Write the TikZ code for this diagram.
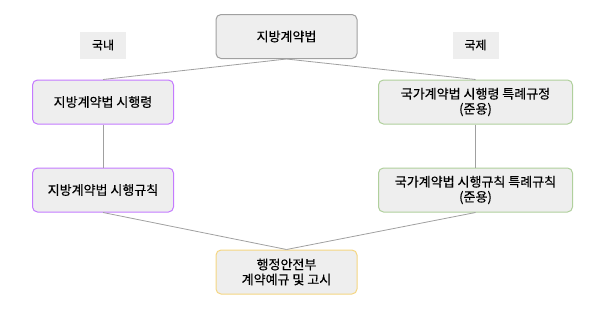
\documentclass[tikz,border=0pt]{standalone}
\usepackage{fontspec}
\setmainfont{Noto Sans CJK KR}[FakeBold=0.4]
\usepackage{xcolor}
\definecolor{boxfill}{RGB}{238,238,238}
\definecolor{topline}{RGB}{160,160,160}
\definecolor{purpleline}{RGB}{196,122,255}
\definecolor{greenline}{RGB}{176,208,156}
\definecolor{yellowline}{RGB}{245,214,130}
\definecolor{linkgray}{RGB}{160,160,160}
\usepackage{tikz}

\begin{document}
\begin{tikzpicture}[x=1pt,y=-1pt,
  law/.style={draw, rounded corners=5pt, fill=boxfill, minimum width=141pt,
    minimum height=44pt, inner sep=0pt, align=center, line width=1pt,
    font=\fontsize{13}{15}\selectfont},
  tag/.style={fill=boxfill, minimum width=46pt, minimum height=27pt,
    inner sep=0pt, font=\fontsize{12}{14}\selectfont},
  link/.style={draw=linkgray, line width=0.8pt}]
  \useasboundingbox (0,0) rectangle (607,311);

  % Side labels
  \node[tag] (domestic) at (103,45) {국내};
  \node[tag] (intl) at (475.5,45) {국제};

  % Act
  \node[law, draw=topline] (act) at (286.5,36.5) {지방계약법};

  % Decrees
  \node[law, draw=purpleline] (decree) at (103,102) {지방계약법 시행령};
  \node[law, draw=greenline, minimum width=194pt] (natdecree) at (475.5,102)
    {국가계약법 시행령 특례규정\\(준용)};

  % Rules
  \node[law, draw=purpleline] (rule) at (103,190) {지방계약법 시행규칙};
  \node[law, draw=greenline, minimum width=194pt] (natrule) at (475.5,190)
    {국가계약법 시행규칙 특례규칙\\(준용)};

  % Ministry
  \node[law, draw=yellowline] (notice) at (286.5,272) {행정안전부\\계약예규 및 고시};

  % Links
  \draw[link] (act.south) -- (decree.north);
  \draw[link] (act.south) -- (natdecree.north);
  \draw[link] (decree.south) -- (rule.north);
  \draw[link] (natdecree.south) -- (natrule.north);
  \draw[link] (rule.south) -- (notice.north);
  \draw[link] (natrule.south) -- (notice.north);
\end{tikzpicture}
\end{document}
